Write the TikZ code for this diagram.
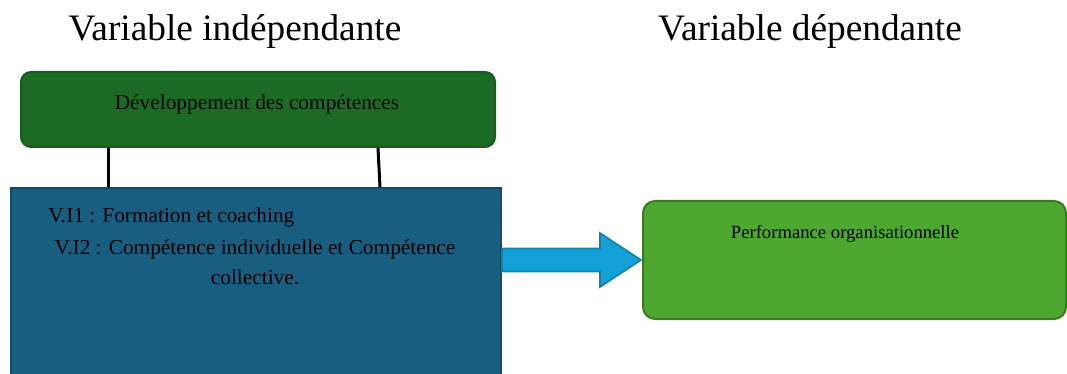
\documentclass[tikz,border=0pt]{standalone}
\usepackage{fontspec}
\setmainfont{Liberation Serif}
\usetikzlibrary{positioning,calc}
\definecolor{forest}{HTML}{1B6B25}
\definecolor{forestline}{HTML}{185A20}
\definecolor{petrol}{HTML}{175E80}
\definecolor{petrolline}{HTML}{0F4C69}
\definecolor{sky}{HTML}{12A0D7}
\definecolor{skyline}{HTML}{1182AE}
\definecolor{leaf}{HTML}{4EA72E}
\definecolor{leafline}{HTML}{3B7B22}
\tikzset{
  box/.style={line width=1.5pt, inner sep=0pt, anchor=north west, text=black},
  greenbox/.style={box, draw=forestline, fill=forest, rounded corners=7.5pt},
  bluebox/.style={box, draw=petrolline, fill=petrol},
  leafbox/.style={box, draw=leafline, fill=leaf, rounded corners=9pt},
  title/.style={font=\rmfamily\fontsize{28}{32}\selectfont},
  boxtext/.style={font=\rmfamily\fontsize{16}{22.5}\selectfont, inner sep=0pt},
  stem/.style={line width=2.25pt, draw=black},
  bigarrow/.style={draw=skyline, fill=sky, line width=1.2pt, line join=miter},
}
\begin{document}
\begin{tikzpicture}[x=0.75pt, y=-0.75pt]
\clip (0,0) rectangle (1067,374);
% titles
\node[title] (indep) at (235,31) {Variable indépendante};
\node[title] (dep) at (810,31) {Variable dépendante};
% independent side
\node[greenbox, minimum width=355.5pt, minimum height=56.25pt] (devbox) at (20,71) {};
\node[boxtext] (devtext) at (257,104) {Développement des compétences};
\node[bluebox, minimum width=367.5pt, minimum height=150pt] (vibox) at (10,187) {};
\node[boxtext, anchor=west] (vione) at (48,217) {V.I1 : Formation et coaching};
\node[boxtext, align=center] (vitwo) at (255,262) {V.I2 : Compétence individuelle et Compétence\\collective.};
\draw[stem] ([xshift=66pt]devbox.south west) -- ([xshift=73.5pt]vibox.north west);
\draw[stem] ([xshift=268.5pt]devbox.south west) -- ([xshift=277.5pt]vibox.north west);
% dependent side
\node[leafbox, minimum width=317.25pt, minimum height=88.5pt] (perfbox) at (642,200) {};
\node[boxtext, font=\rmfamily\fontsize{14}{17}\selectfont] (perftext) at (845,234) {Performance organisationnelle};
% arrow
\coordinate (tail) at (vibox.east |- perfbox.west);
\draw[bigarrow, shift={(tail)}] (0,-11.5) -- (98,-11.5) -- (98,-27) -- (139,0)
  -- (98,27) -- (98,11.5) -- (0,11.5) -- cycle;
\end{tikzpicture}
\end{document}
